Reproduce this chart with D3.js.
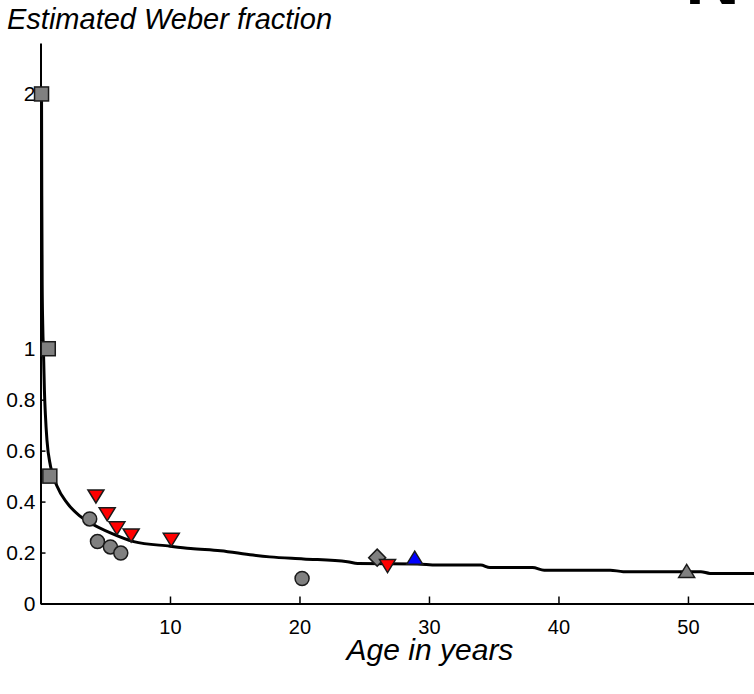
<!DOCTYPE html>
<html><head><meta charset="utf-8">
<script src="https://cdn.jsdelivr.net/npm/d3@7"></script>
<style>
html,body{margin:0;padding:0;background:#fff;}
svg{display:block;font-family:"Liberation Sans",Arial,sans-serif;}
</style></head>
<body>
<svg id="chart" width="754" height="694"></svg>
<script>
// ---- data ----
const xTicks = [10, 20, 30, 40, 50];
const yTicks = [0, 0.2, 0.4, 0.6, 0.8, 1, 2];
const yTickLabels = ["0", "0.2", "0.4", "0.6", "0.8", "1", "2"];

const curveAge = [0.08, 0.1, 0.13, 0.17, 0.25, 0.3, 0.38, 0.5, 0.77, 1.28, 2.05, 3.0, 3.86, 5.4, 7.2, 10, 11.6, 13.9, 16.4, 17.7, 20.3, 23.7, 24.5, 29.1, 30.6, 34, 34.7, 38, 38.9, 44, 45, 51, 51.7, 55.5];
const curveVal = [2.0, 1.6, 1.25, 1.1, 0.95, 0.84, 0.74, 0.64, 0.54, 0.46, 0.395, 0.345, 0.316, 0.277, 0.243, 0.225, 0.216, 0.207, 0.19, 0.183, 0.175, 0.164, 0.157, 0.155, 0.151, 0.151, 0.141, 0.141, 0.131, 0.131, 0.125, 0.125, 0.118, 0.118];

const squareAge = [0.08, 0.6, 0.72];
const squareVal = [2.0, 1.0, 0.5];
const circleAge = [3.8, 4.4, 5.4, 6.2, 20.2];
const circleVal = [0.332, 0.243, 0.222, 0.198, 0.098];
const redDownAge = [4.28, 5.15, 5.9, 7.0, 10.1, 26.8];
const redDownVal = [0.42, 0.35, 0.295, 0.267, 0.25, 0.147];
const diamondAge = [26.0];
const diamondVal = [0.18];
const blueUpAge = [28.9];
const blueUpVal = [0.18];
const grayUpAge = [49.9];
const grayUpVal = [0.128];

// ---- layout ----
const svg = d3.select("#chart");
const x = d3.scaleLinear().domain([0, 55.1]).range([40.5, 754]);
const y = d3.scaleLinear().domain([0, 2.2]).range([603.5, 43]);

// axes
const xAxis = d3.axisBottom(x).tickValues(xTicks).tickSize(-7).tickSizeOuter(0).tickPadding(16).tickFormat(d3.format("d"));
const gx = svg.append("g").attr("transform", `translate(0,${y(0)})`).call(xAxis);
gx.select(".domain").attr("stroke", "#000").attr("stroke-width", 2);
gx.selectAll(".tick line").attr("stroke", "#000").attr("stroke-width", 1.5);
gx.selectAll(".tick text").attr("font-size", 20).attr("fill", "#000").attr("font-family", "Liberation Sans, Arial, sans-serif");

const yAxis = d3.axisLeft(y).tickValues(yTicks).tickSize(-5).tickSizeOuter(0).tickPadding(5)
  .tickFormat((d, i) => yTickLabels[i]);
const gy = svg.append("g").attr("transform", `translate(${x(0)},0)`).call(yAxis);
gy.select(".domain").attr("stroke", "#000").attr("stroke-width", 2);
gy.selectAll(".tick line").attr("stroke", "#000").attr("stroke-width", 1.5);
gy.selectAll(".tick text").attr("font-size", 21).attr("fill", "#000").attr("font-family", "Liberation Sans, Arial, sans-serif");

// fitted curve
const curvePts = curveAge.map((a, i) => [a, curveVal[i]]);
svg.append("path").datum(curvePts)
  .attr("fill", "none").attr("stroke", "#000").attr("stroke-width", 3)
  .attr("stroke-linejoin", "round")
  .attr("d", d3.line().x(d => x(d[0])).y(d => y(d[1])).curve(d3.curveMonotoneX));

// markers
const stroke = "#1a1a1a", sw = 1.5;
function zip(a, b) { return a.map((v, i) => [v, b[i]]); }

svg.append("g").selectAll("rect").data(zip(squareAge, squareVal)).join("rect")
  .attr("x", d => x(d[0]) - 7).attr("y", d => y(d[1]) - 7).attr("width", 14).attr("height", 14)
  .attr("fill", "#808080").attr("stroke", stroke).attr("stroke-width", sw);

svg.append("g").selectAll("circle").data(zip(circleAge, circleVal)).join("circle")
  .attr("cx", d => x(d[0])).attr("cy", d => y(d[1])).attr("r", 7)
  .attr("fill", "#808080").attr("stroke", stroke).attr("stroke-width", sw);

function triDown(cx, cy) { const w = 8, h = 6.5; return `M${cx - w},${cy - h}L${cx + w},${cy - h}L${cx},${cy + h}Z`; }
function triUp(cx, cy) { const w = 8, h = 6.5; return `M${cx - w},${cy + h}L${cx + w},${cy + h}L${cx},${cy - h}Z`; }
function diamond(cx, cy) { const r = 8.5; return `M${cx},${cy - r}L${cx + r},${cy}L${cx},${cy + r}L${cx - r},${cy}Z`; }

svg.append("g").selectAll("path").data(zip(diamondAge, diamondVal)).join("path")
  .attr("d", d => diamond(x(d[0]), y(d[1])))
  .attr("fill", "#808080").attr("stroke", stroke).attr("stroke-width", sw);

svg.append("g").selectAll("path").data(zip(redDownAge, redDownVal)).join("path")
  .attr("d", d => triDown(x(d[0]), y(d[1])))
  .attr("fill", "#ff0000").attr("stroke", stroke).attr("stroke-width", sw);

svg.append("g").selectAll("path").data(zip(blueUpAge, blueUpVal)).join("path")
  .attr("d", d => triUp(x(d[0]), y(d[1])))
  .attr("fill", "#0000ff").attr("stroke", stroke).attr("stroke-width", sw);

svg.append("g").selectAll("path").data(zip(grayUpAge, grayUpVal)).join("path")
  .attr("d", d => triUp(x(d[0]), y(d[1])))
  .attr("fill", "#808080").attr("stroke", stroke).attr("stroke-width", sw);

// titles
svg.append("text").attr("x", 7).attr("y", 29)
  .attr("font-size", 29).attr("font-style", "italic").attr("fill", "#000")
  .text("Estimated Weber fraction");
svg.append("text").attr("x", 430).attr("y", 660).attr("text-anchor", "middle")
  .attr("font-size", 30).attr("font-style", "italic").attr("fill", "#000")
  .text("Age in years");

// cropped panel letter at top right
svg.append("text").attr("x", 685).attr("y", 4)
  .attr("font-size", 76).attr("font-weight", "bold").attr("fill", "#000")
  .text("N");
</script>
</body></html>
